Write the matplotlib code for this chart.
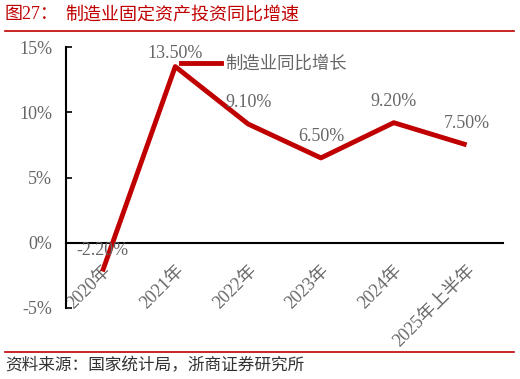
import matplotlib
matplotlib.use("Agg")
import matplotlib.pyplot as plt
from matplotlib.lines import Line2D

plt.rcParams['font.family'] = ['Liberation Serif', 'Noto Sans CJK SC', 'DejaVu Sans']

categories = ["2020年", "2021年", "2022年", "2023年", "2024年", "2025年上半年"]
values = [-2.2, 13.5, 9.1, 6.5, 9.2, 7.5]
yticks = [-5, 0, 5, 10, 15]
ytick_labels = ["-5%", "0%", "5%", "10%", "15%"]
series_name = "制造业同比增长"
title_prefix = "图27："
title_text = "制造业固定资产投资同比增速"
source_text = "资料来源：国家统计局，浙商证券研究所"

RED = "#C00000"
GRAY = "#666666"

fig = plt.figure(figsize=(5.2, 3.79), dpi=100)
ax = fig.add_axes([66/520, 1-308/379, (503-66)/520, (308-47)/379])

ax.spines['top'].set_visible(False)
ax.spines['right'].set_visible(False)
ax.spines['bottom'].set_position(('data', 0))
for s in ['left', 'bottom']:
    ax.spines[s].set_linewidth(1.5)
    ax.spines[s].set_color('black')

x = list(range(len(categories)))
ax.plot(x, values, color=RED, lw=3.5, solid_capstyle='butt', zorder=3)

ymax = 15
for xi, v in zip(x, values):
    off = 3 if v > ymax - 2.5 else 9
    ax.annotate(f"{v:.2f}%", (xi, v), xytext=(0, off), textcoords='offset points',
                ha='center', va='bottom', fontsize=13, color=GRAY, annotation_clip=False)

ax.set_xlim(-0.5, len(categories) - 0.5)
ax.set_ylim(-5, ymax)
ax.set_yticks(yticks)
ax.set_yticklabels(ytick_labels, fontsize=13, color=GRAY)
ax.tick_params(axis='y', direction='in', length=4, width=1.2, pad=10)
ax.set_xticks(x)
ax.tick_params(axis='x', length=0, pad=14)
ax.set_xticklabels(categories, rotation=45, ha='right', rotation_mode='anchor',
                   fontsize=13, color=GRAY, family=['Liberation Serif', 'Noto Sans CJK SC'])

leg = ax.legend([Line2D([0], [0], color=RED, lw=3.5)], [series_name],
                loc='upper left', bbox_to_anchor=(0.228, 1.03), frameon=False,
                handlelength=2.3, handletextpad=0.25,
                prop={'family': 'Noto Sans CJK SC', 'size': 12.5})
for t in leg.get_texts():
    t.set_color(GRAY)

fig.text(5/520, 1-15/379, title_prefix, fontsize=13, color=RED, va='center', ha='left',
         family=['Liberation Serif', 'Noto Sans CJK SC'])
fig.text(65/520, 1-15/379, title_text, fontsize=13, color=RED, va='center', ha='left',
         family='Noto Sans CJK SC')
fig.add_artist(Line2D([5/520, 514/520], [1-31/379, 1-31/379], color=RED, lw=1.2))
fig.add_artist(Line2D([5/520, 514/520], [1-352/379, 1-352/379], color=RED, lw=1.2))
fig.text(5/520, 1-366/379, source_text, fontsize=12, color='#333333', va='center', ha='left',
         family='Noto Sans CJK SC')

fig.savefig("out.png", dpi=100)
